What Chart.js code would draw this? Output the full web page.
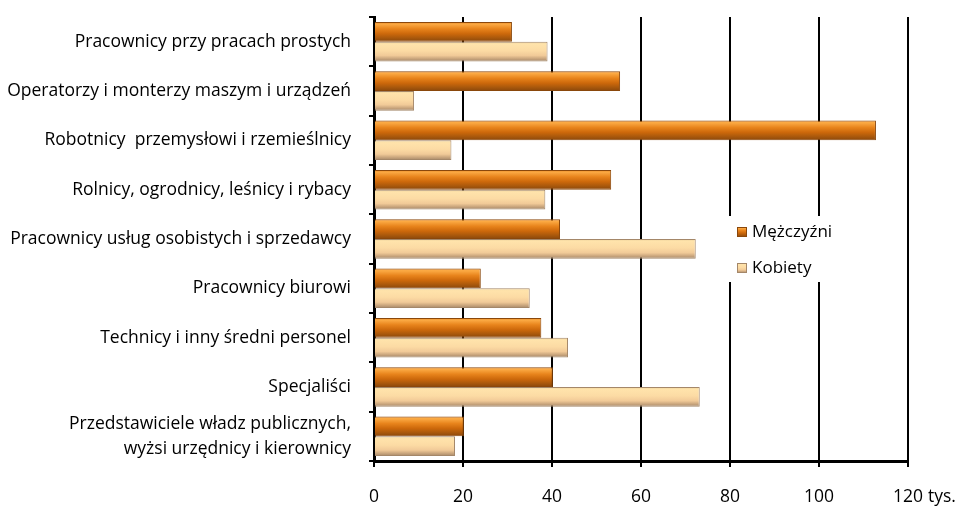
<!DOCTYPE html>
<html>
<head>
<meta charset="utf-8">
<script src="https://cdn.jsdelivr.net/npm/chart.js@4.4.1/dist/chart.umd.min.js"></script>
<style>
  html, body { margin: 0; padding: 0; background: #fff; }
  #wrap { width: 963px; height: 506px; position: relative; }
</style>
</head>
<body>
<div id="wrap"><canvas id="myChart"></canvas></div>
<script>
// categories (top to bottom)
var categories = [
    'Pracownicy przy pracach prostych',
    'Operatorzy i monterzy maszym i urządzeń',
    'Robotnicy  przemysłowi i rzemieślnicy',
    'Rolnicy, ogrodnicy, leśnicy i rybacy',
    'Pracownicy usług osobistych i sprzedawcy',
    'Pracownicy biurowi',
    'Technicy i inny średni personel',
    'Specjaliści',
    ['Przedstawiciele władz publicznych,', 'wyżsi urzędnicy i kierownicy']
];
var seriesNames = ['Mężczyźni', 'Kobiety'];
// values in thousands
var men   = [31, 55.3, 112.8, 53.3, 41.8, 24, 37.6, 40.2, 20.2];
var women = [39, 9, 17.4, 38.5, 72.3, 35, 43.6, 73.2, 18.2];
var xTicks = [0, 20, 40, 60, 80, 100, 120];
var unitLabel = 'tys.';

var catPct = 0.8;
var FONT = '"Open Sans", Lato, sans-serif';
var FS = 17.5;

var gradStops = [
    [[0, '#d9720f'], [0.1, '#fcab45'], [0.35, '#e8841c'], [0.6, '#cc680b'], [0.8, '#ab590c'], [1, '#8a470b']],
    [[0, '#eed39c'], [0.12, '#ffe3ab'], [0.45, '#fcdba4'], [0.7, '#f1ca98'], [0.85, '#cca87f'], [1, '#a48769']]
];
var solid = ['#cc680b', '#f8d49c'];
var edge = ['#8a470b', '#a48769'];

function barGradient(context) {
    var chart = context.chart;
    var ys = chart.scales.y;
    var di = context.datasetIndex;
    if (!ys || ys.top === undefined || context.dataIndex === undefined) return solid[di];
    var center = ys.getPixelForValue(context.dataIndex);
    var size = (ys.bottom - ys.top) / categories.length * catPct / 2;
    var top = di === 0 ? center - size : center;
    var g = chart.ctx.createLinearGradient(0, top, 0, top + size);
    gradStops[di].forEach(function (s) { g.addColorStop(s[0], s[1]); });
    return g;
}

// legend drawn inside the plot, over the gridlines
var boxLegend = {
    id: 'boxLegend',
    afterDatasetsDraw: function (chart) {
        var c = chart.ctx;
        c.save();
        c.fillStyle = '#fff';
        c.fillRect(726, 216, 106, 66);
        c.font = '17px ' + FONT;
        c.textBaseline = 'middle';
        c.textAlign = 'left';
        var rows = [232, 268];
        for (var i = 0; i < 2; i++) {
            var y = rows[i];
            var g = c.createLinearGradient(0, y - 5, 0, y + 5);
            gradStops[i].forEach(function (s) { g.addColorStop(s[0], s[1]); });
            c.fillStyle = g;
            c.fillRect(737, y - 5, 10, 10);
            c.strokeStyle = edge[i];
            c.lineWidth = 1;
            c.strokeRect(737.5, y - 4.5, 9, 9);
            c.fillStyle = '#000';
            c.fillText(seriesNames[i], 752, y);
        }
        c.restore();
    },
    afterDraw: function (chart) {
        var xs = chart.scales.x;
        var c = chart.ctx;
        c.save();
        c.font = FS + 'px ' + FONT;
        c.fillStyle = '#000';
        c.textBaseline = 'middle';
        c.textAlign = 'left';
        var px = xs.getPixelForValue(xTicks[xTicks.length - 1]);
        var w = c.measureText(String(xTicks[xTicks.length - 1])).width;
        c.fillText(unitLabel, px + w / 2 + 5, 497);
        c.restore();
    }
};

var ctx = document.getElementById('myChart').getContext('2d');
var chart = new Chart(ctx, {
    type: 'bar',
    data: {
        labels: categories,
        datasets: [{
            label: seriesNames[0],
            data: men,
            backgroundColor: barGradient,
            borderColor: edge[0],
            borderWidth: 1
        }, {
            label: seriesNames[1],
            data: women,
            backgroundColor: barGradient,
            borderColor: edge[1],
            borderWidth: 1
        }]
    },
    options: {
        indexAxis: 'y',
        responsive: true,
        maintainAspectRatio: false,
        animation: false,
        categoryPercentage: catPct,
        barPercentage: 1,
        layout: { padding: { top: 17, right: 55, left: 0, bottom: 0 } },
        plugins: {
            legend: { display: false },
            tooltip: { enabled: false }
        },
        scales: {
            x: {
                min: 0,
                max: 120,
                afterBuildTicks: function (scale) {
                    scale.ticks = xTicks.map(function (v) { return { value: v }; });
                },
                afterFit: function (scale) {
                    scale.height = 45;
                    scale.paddingLeft = 0;
                    scale.paddingRight = 0;
                },
                grid: { color: '#000', lineWidth: 2, drawTicks: true, tickLength: 6, tickColor: '#000' },
                border: { color: '#000', width: 3 },
                ticks: {
                    color: '#000',
                    padding: 20,
                    maxRotation: 0,
                    font: { family: FONT, size: FS }
                }
            },
            y: {
                afterFit: function (scale) {
                    scale.width = 374;
                    scale.paddingTop = 0;
                    scale.paddingBottom = 0;
                },
                grid: { drawOnChartArea: false, drawTicks: true, tickLength: 5, tickColor: '#000', lineWidth: 2, offset: true },
                border: { color: '#000', width: 3 },
                ticks: {
                    color: '#000',
                    padding: 18,
                    autoSkip: false,
                    font: { family: FONT, size: FS, lineHeight: 1.4 }
                }
            }
        }
    },
    plugins: [boxLegend]
});
</script>
</body>
</html>
